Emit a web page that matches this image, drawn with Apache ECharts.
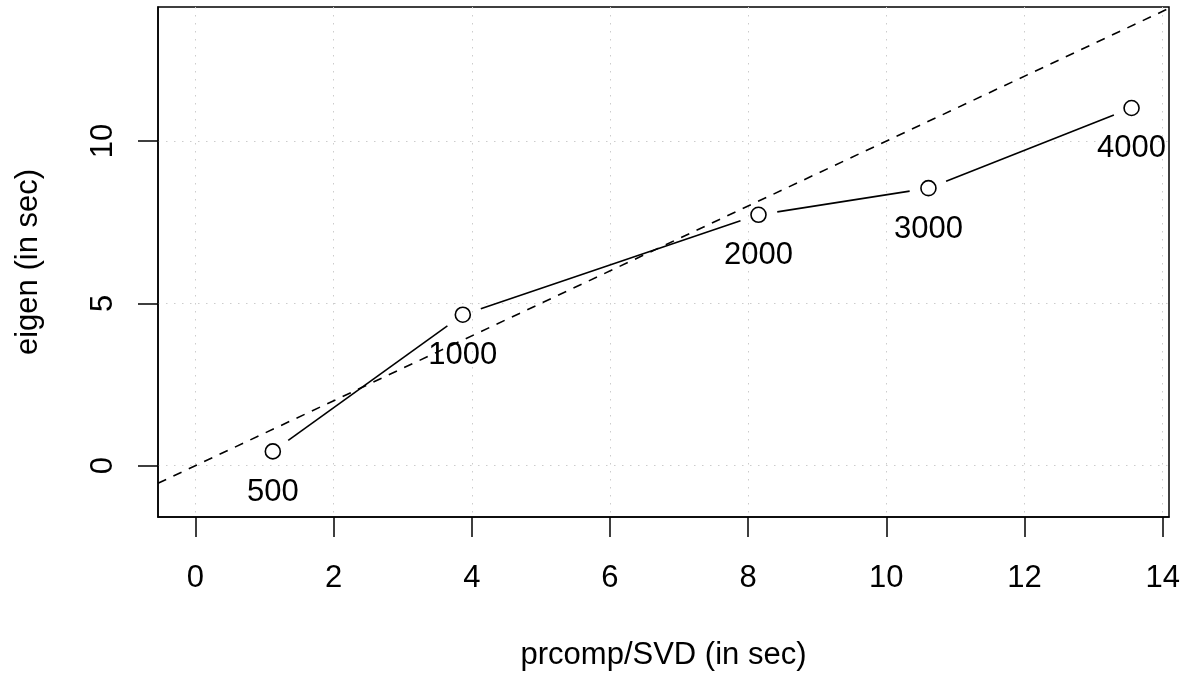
<!DOCTYPE html>
<html>
<head>
<meta charset="utf-8">
<script src="https://cdn.jsdelivr.net/npm/echarts@6/dist/echarts.min.js"></script>
<style>
  * { margin: 0; padding: 0; }
  html, body { background: #fff; }
  #chart { width: 1183px; height: 673px; }
</style>
</head>
<body>
<div id="chart"></div>
<script>
// sample sizes and timings (seconds)
const sizes = ["500", "1000", "2000", "3000", "4000"];
const prcompTime = [1.12, 3.87, 8.15, 10.61, 13.55];
const eigenTime = [0.44, 4.65, 7.73, 8.55, 11.02];

const xTicks = [0, 2, 4, 6, 8, 10, 12, 14];
const yTicks = [0, 5, 10];

// plot region limits (R style, 4% padding)
const xMin = -0.542, xMax = 14.092;
const yMin = -1.582, yMax = 14.132;

const font = "'Liberation Sans', Arial, Helvetica, sans-serif";
const fontSize = 31;

const points = prcompTime.map((x, i) => [x, eigenTime[i], sizes[i]]);
const segments = prcompTime.slice(1).map((x, i) => [prcompTime[i], eigenTime[i], x, eigenTime[i + 1]]);
const diagonal = [[xMin, xMin], [xMax, xMax]];

const chart = echarts.init(document.getElementById("chart"), null, { renderer: "canvas" });

const gridLine = {
  show: true,
  lineStyle: { color: "#cccccc", width: 1, type: [1.5, 6.5] },
};

const option = {
  animation: false,
  backgroundColor: "#fff",
  textStyle: { fontFamily: font },
  grid: {
    left: 158,
    right: 14,
    top: 7,
    bottom: 156,
    show: true,
    borderColor: "#000",
    borderWidth: 1.5,
    backgroundColor: "transparent",
    containLabel: false,
    outerBoundsMode: "none",
  },
  xAxis: {
    type: "value",
    min: xMin,
    max: xMax,
    splitNumber: 7,
    name: "prcomp/SVD (in sec)",
    nameLocation: "middle",
    nameGap: 123,
    nameTextStyle: { fontSize: fontSize, color: "#000", fontFamily: font },
    axisLine: { show: true, onZero: false, lineStyle: { color: "#000", width: 1.5 } },
    axisTick: { show: true, inside: false, length: 20, customValues: xTicks, lineStyle: { color: "#000", width: 1.5 } },
    axisLabel: {
      customValues: xTicks,
      margin: 46,
      fontSize: fontSize,
      color: "#000",
      fontFamily: font,
    },
    splitLine: gridLine,
  },
  yAxis: {
    type: "value",
    min: yMin,
    max: yMax,
    splitNumber: 3,
    name: "eigen (in sec)",
    nameLocation: "middle",
    nameGap: 114,
    nameRotate: 90,
    nameTextStyle: { fontSize: fontSize, color: "#000", fontFamily: font },
    axisLine: { show: true, onZero: false, lineStyle: { color: "#000", width: 1.5 } },
    axisTick: { show: true, inside: false, length: 20, customValues: yTicks, lineStyle: { color: "#000", width: 1.5 } },
    axisLabel: {
      customValues: yTicks,
      rotate: 90,
      margin: 39,
      fontSize: fontSize,
      color: "#000",
      fontFamily: font,
    },
    splitLine: gridLine,
  },
  series: [
    {
      // type="b" style: segments stop short of the points
      type: "custom",
      data: segments,
      encode: { x: [0, 2], y: [1, 3] },
      z: 2,
      renderItem: function (params, api) {
        const p1 = api.coord([api.value(0), api.value(1)]);
        const p2 = api.coord([api.value(2), api.value(3)]);
        const dx = p2[0] - p1[0];
        const dy = p2[1] - p1[1];
        const len = Math.sqrt(dx * dx + dy * dy);
        const gap = 19;
        const ux = dx / len, uy = dy / len;
        return {
          type: "line",
          shape: {
            x1: p1[0] + ux * gap,
            y1: p1[1] + uy * gap,
            x2: p2[0] - ux * gap,
            y2: p2[1] - uy * gap,
          },
          style: { stroke: "#000", lineWidth: 1.6 },
        };
      },
    },
    {
      type: "line",
      data: diagonal,
      symbol: "none",
      z: 3,
      lineStyle: { color: "#000", width: 1.6, type: [9, 8] },
      silent: true,
    },
    {
      type: "scatter",
      data: points,
      z: 4,
      symbol: "circle",
      symbolSize: 15,
      itemStyle: { color: "#fff", borderColor: "#000", borderWidth: 1.6, opacity: 1 },
      label: {
        show: true,
        position: "bottom",
        distance: 17,
        formatter: (p) => p.value[2],
        fontSize: fontSize,
        color: "#000",
        fontFamily: font,
      },
    },
  ],
};

chart.setOption(option);
</script>
</body>
</html>
